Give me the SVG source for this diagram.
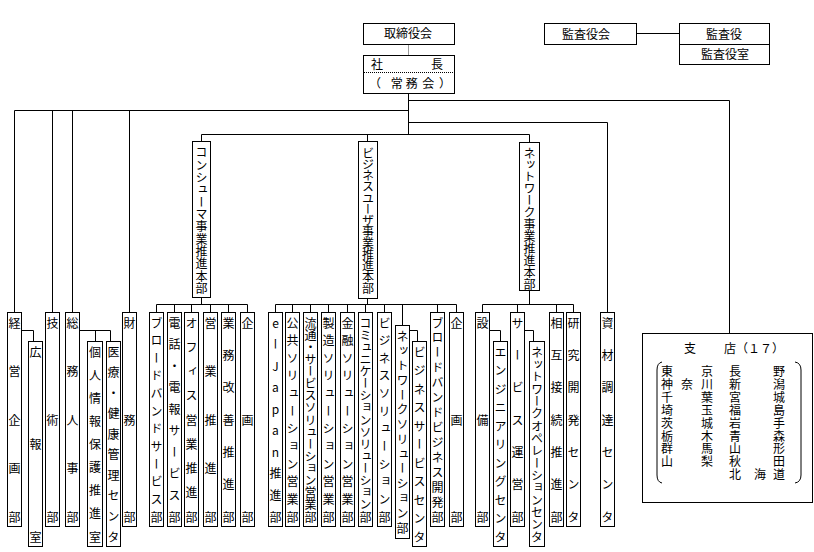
<svg xmlns="http://www.w3.org/2000/svg" width="814" height="552" viewBox="0 0 814 552">
<style>
.b{fill:#fff;stroke:#000;stroke-width:1}
.c path{fill:none;stroke:#000;stroke-width:1}
text{font-family:"Noto Sans CJK JP","Noto Sans CJK SC",sans-serif;font-size:12px;fill:#000}
.v{writing-mode:vertical-rl;text-orientation:upright}
</style>
<rect width="814" height="552" fill="#fff"/>
<g id="connectors" class="c">
<path d="M408.5 44.5V55.5" style="stroke:#999"/>
<path d="M636.5 33.5H679.5"/>
<path d="M408.5 93.5V134.5"/>
<path d="M408.5 100.5H729.5V333.5"/>
<path d="M14.5 312.5V110.5H408.5M52.5 110.5V312.5M72.5 110.5V312.5M129.5 110.5V312.5"/>
<path d="M408.5 122.5H607.5V312.5"/>
<path d="M201.5 141.5V134.5H529.5V142.5M367.5 134.5V141.5"/>
<path d="M201.5 297.5V304.5M156.5 312.5V304.5H247.5V312.5M174.5 304.5V312.5M191.5 304.5V312.5M210.5 304.5V312.5M228.5 304.5V312.5"/>
<path d="M367.5 298.5V304.5M275.5 312.5V304.5H456.5V312.5M292.5 304.5V312.5M310.5 304.5V312.5M328.5 304.5V312.5M347.5 304.5V312.5M365.5 304.5V312.5M384.5 304.5V312.5M402.5 304.5V325.5M437.5 304.5V312.5"/>
<path d="M529.5 290.5V304.5M482.5 312.5V304.5H573.5V312.5M517.5 304.5V312.5M556.5 304.5V312.5"/>
<path d="M21.5 330.5H33.5V341.5"/>
<path d="M79.5 330.5H110.5V341.5M95.5 330.5V341.5"/>
<path d="M409.5 330.5H417.5V341.5"/>
<path d="M489.5 330.5H500.5V341.5"/>
<path d="M524.5 330.5H533.5V341.5"/>
</g>
<g id="board"><rect class="b" x="363.5" y="23.5" width="91" height="21"/><text x="384" y="38">取締役会</text></g>
<g id="president"><rect class="b" x="363.5" y="55.5" width="91" height="38"/><path d="M364 72.5H454" stroke="#000" stroke-dasharray="1,1"/><text x="371 431" y="68.8">社長</text><text x="369 390.7 405.7 422.3 439" y="87.8">（常務会）</text></g>
<g id="auditboard"><rect class="b" x="544.5" y="23.5" width="92" height="21"/><text x="562" y="38.5">監査役会</text></g>
<g id="auditor"><rect class="b" x="679.5" y="23.5" width="90" height="41"/><path d="M679.5 44.5H769.5" stroke="#000"/><text x="706" y="38.5">監査役</text><text x="701" y="58.8">監査役室</text></g>

<g id="consumer"><rect class="b" x="192.5" y="141.5" width="18" height="156"/><text class="v" x="201.5" y="146.7 159 171.4 183.7 196 208.3 220.7 233 245.3 257.6 270 282.3">コンシューマ事業推進本部</text></g>
<g id="business"><rect class="b" x="358.5" y="141.5" width="19" height="157"/><text class="v" x="368" y="147 158.3 169.5 180.8 192 203.3 214.5 225.8 237 248.3 259.5 270.8 282">ビジネスユーザ事業推進本部</text></g>
<g id="network"><rect class="b" x="519.5" y="142.5" width="20" height="148"/><text class="v" x="529.5" y="147 158.9 170.8 182.7 194.6 206.5 218.5 230.4 242.3 254.2 266.1 278">ネットワーク事業推進本部</text></g>

<g id="keiei"><rect class="b" x="7.5" y="312.5" width="14" height="214"/><text class="v" x="14.5" y="317 365.5 414 462.5 511">経営企画部</text></g>
<g id="kouhou"><rect class="b" x="28.5" y="341.5" width="14" height="205"/><text class="v" x="35.5" y="346 438.5 531">広報室</text></g>
<g id="gijutsu"><rect class="b" x="45.5" y="312.5" width="14" height="214"/><text class="v" x="52.5" y="317 414 511">技術部</text></g>
<g id="soumu"><rect class="b" x="65.5" y="312.5" width="14" height="214"/><text class="v" x="72.5" y="317 365.5 414 462.5 511">総務人事部</text></g>
<g id="kojin"><rect class="b" x="87.5" y="341.5" width="15" height="205"/><text class="v" x="95" y="346 369.1 392.3 415.4 438.5 461.6 484.8 507.9 531">個人情報保護推進室</text></g>
<g id="iryou"><rect class="b" x="106.5" y="341.5" width="14" height="205"/><text class="v" x="113.5" y="346 366.6 387.1 407.7 428.2 448.8 469.3 489.9 510.4 531">医療・健康管理センタ</text></g>
<g id="zaimu"><rect class="b" x="122.5" y="312.5" width="14" height="214"/><text class="v" x="129.5" y="317 414 511">財務部</text></g>

<g id="c1"><rect class="b" x="149.5" y="312.5" width="14" height="214"/><text class="v" x="156.5" y="317 334.6 352.3 369.9 387.5 405.2 422.8 440.5 458.1 475.7 493.4 511">ブロードバンドサービス部</text></g>
<g id="c2"><rect class="b" x="167.5" y="312.5" width="14" height="214"/><text class="v" x="174.5" y="317 338.6 360.1 381.7 403.2 424.8 446.3 467.9 489.4 511">電話・電報サービス部</text></g>
<g id="c3"><rect class="b" x="184.5" y="312.5" width="14" height="214"/><text class="v" x="191.5" y="317 341.3 365.5 389.8 414 438.3 462.5 486.8 511">オフィス営業推進部</text></g>
<g id="c4"><rect class="b" x="203.5" y="312.5" width="14" height="214"/><text class="v" x="210.5" y="317 365.5 414 462.5 511">営業推進部</text></g>
<g id="c5"><rect class="b" x="221.5" y="312.5" width="14" height="214"/><text class="v" x="228.5" y="317 349.3 381.7 414 446.3 478.7 511">業務改善推進部</text></g>
<g id="c6"><rect class="b" x="240.5" y="312.5" width="14" height="214"/><text class="v" x="247.5" y="317 414 511">企画部</text></g>

<g id="b1"><rect class="b" x="268.5" y="312.5" width="14" height="214"/><text class="v" x="275.5" y="317 338.6 360.1 381.7 403.2 424.8 446.3 467.9 489.4 511">eーJapan推進部</text></g>
<g id="b2"><rect class="b" x="285.5" y="312.5" width="14" height="214"/><text class="v" x="292.5" y="317 334.6 352.3 369.9 387.5 405.2 422.8 440.5 458.1 475.7 493.4 511">公共ソリューション営業部</text></g>
<g id="b3"><rect class="b" x="303.5" y="312.5" width="14" height="214"/><text class="v" x="310.5" y="317 329.1 341.3 353.4 365.5 377.6 389.8 401.9 414 426.1 438.3 450.4 462.5 474.6 486.8 498.9 511">流通・サービスソリューション営業部</text></g>
<g id="b4"><rect class="b" x="321.5" y="312.5" width="14" height="214"/><text class="v" x="328.5" y="317 334.6 352.3 369.9 387.5 405.2 422.8 440.5 458.1 475.7 493.4 511">製造ソリューション営業部</text></g>
<g id="b5"><rect class="b" x="340.5" y="312.5" width="14" height="214"/><text class="v" x="347.5" y="317 334.6 352.3 369.9 387.5 405.2 422.8 440.5 458.1 475.7 493.4 511">金融ソリューション営業部</text></g>
<g id="b6"><rect class="b" x="358.5" y="312.5" width="14" height="214"/><text class="v" x="365.5" y="317 329.1 341.3 353.4 365.5 377.6 389.8 401.9 414 426.1 438.3 450.4 462.5 474.6 486.8 498.9 511">コミュニケーションソリューション部</text></g>
<g id="b7"><rect class="b" x="377.5" y="312.5" width="14" height="214"/><text class="v" x="384.5" y="317 334.6 352.3 369.9 387.5 405.2 422.8 440.5 458.1 475.7 493.4 511">ビジネスソリューション部</text></g>
<g id="b8"><rect class="b" x="395.5" y="325.5" width="14" height="213"/><text class="v" x="402.5" y="330 344.8 359.5 374.3 389.1 403.8 418.6 433.4 448.2 462.9 477.7 492.5 507.2 522">ネットワークソリューション部</text></g>
<g id="b9"><rect class="b" x="412.5" y="341.5" width="14" height="205"/><text class="v" x="419.5" y="346 364.5 383 401.5 420 438.5 457 475.5 494 512.5 531">ビジネスサービスセンタ</text></g>
<g id="b10"><rect class="b" x="430.5" y="312.5" width="14" height="214"/><text class="v" x="437.5" y="317 331.9 346.8 361.8 376.7 391.6 406.5 421.5 436.4 451.3 466.2 481.2 496.1 511">ブロードバンドビジネス開発部</text></g>
<g id="b11"><rect class="b" x="449.5" y="312.5" width="14" height="214"/><text class="v" x="456.5" y="317 414 511">企画部</text></g>

<g id="n1"><rect class="b" x="475.5" y="312.5" width="14" height="214"/><text class="v" x="482.5" y="317 414 511">設備部</text></g>
<g id="n2"><rect class="b" x="493.5" y="341.5" width="14" height="205"/><text class="v" x="500.5" y="346 364.5 383 401.5 420 438.5 457 475.5 494 512.5 531">エンジニアリングセンタ</text></g>
<g id="n3"><rect class="b" x="510.5" y="312.5" width="14" height="214"/><text class="v" x="517.5" y="317 349.3 381.7 414 446.3 478.7 511">サービス運営部</text></g>
<g id="n4"><rect class="b" x="529.5" y="341.5" width="15" height="205"/><text class="v" x="537" y="346 358.3 370.7 383 395.3 407.7 420 432.3 444.7 457 469.3 481.7 494 506.3 518.7 531">ネットワークオペレーションセンタ</text></g>
<g id="n5"><rect class="b" x="549.5" y="312.5" width="14" height="214"/><text class="v" x="556.5" y="317 349.3 381.7 414 446.3 478.7 511">相互接続推進部</text></g>
<g id="n6"><rect class="b" x="566.5" y="312.5" width="14" height="214"/><text class="v" x="573.5" y="317 349.3 381.7 414 446.3 478.7 511">研究開発センタ</text></g>
<g id="shizai"><rect class="b" x="600.5" y="312.5" width="14" height="214"/><text class="v" x="607.5" y="317 349.3 381.7 414 446.3 478.7 511">資材調達センタ</text></g>

<g id="branches"><rect class="b" x="642.5" y="333.5" width="170" height="169"/>
<text x="684 724" y="352.7">支店（１７）</text>
<path d="M662 362Q657 363 657 370V475Q657 482 662 483M795 362Q801 363 801 370V475Q801 482 795 483" fill="none" stroke="#000"/>
<text x="661 701" y="376">東京</text><text x="729 773" y="376">長野</text>
<text x="661 681 701" y="388.9">神奈川</text><text x="729 773" y="388.9">新潟</text>
<text x="661 701" y="401.8">千葉</text><text x="729 773" y="401.8">宮城</text>
<text x="661 701" y="414.7">埼玉</text><text x="729 773" y="414.7">福島</text>
<text x="661 701" y="427.6">茨城</text><text x="729 773" y="427.6">岩手</text>
<text x="661 701" y="440.5">栃木</text><text x="729 773" y="440.5">青森</text>
<text x="661 701" y="453.4">群馬</text><text x="729 773" y="453.4">山形</text>
<text x="661 701" y="466.3">山梨</text><text x="729 773" y="466.3">秋田</text>
<text x="729 754 773" y="479.2">北海道</text>
</g>
</svg>
